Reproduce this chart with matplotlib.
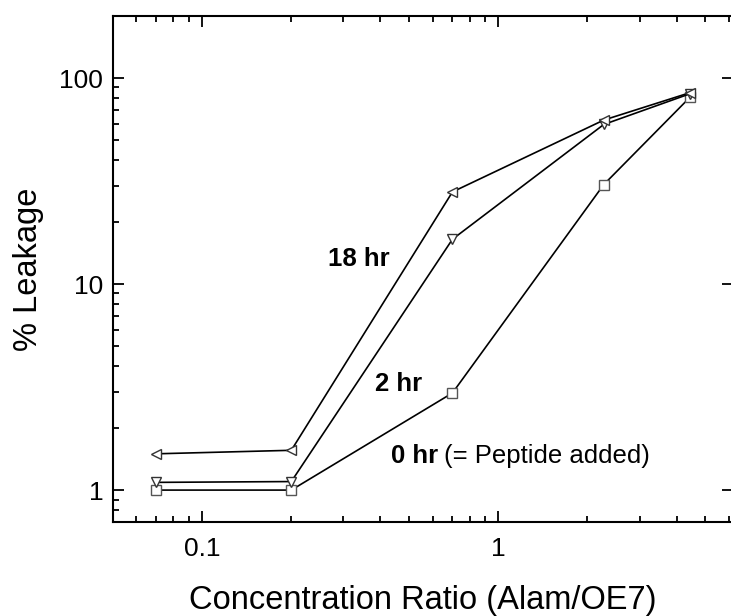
# import libraries
import numpy as np
import matplotlib
matplotlib.use('Agg')
import matplotlib.pyplot as plt
from matplotlib.ticker import LogLocator, NullFormatter, FixedLocator

plt.rcParams['font.family'] = ['Liberation Sans', 'DejaVu Sans']

# data
ratio = [0.07, 0.2, 0.7, 2.27, 4.45]
leak_18hr = [1.50, 1.56, 28.0, 62.5, 85.0]
leak_2hr = [1.09, 1.10, 16.5, 59.5, 84.0]
leak_0hr = [1.0, 1.0, 2.96, 30.4, 81.0]

series_labels = ['18 hr', '2 hr', '0 hr']
note_text = '(= Peptide added)'
x_title = 'Concentration Ratio (Alam/OE7)'
y_title = '% Leakage'


def make_plot():
    fig = plt.figure(figsize=(7.31, 6.16), dpi=100)
    ax = fig.add_axes([113 / 731, 1 - 522 / 616, 620 / 731, 506 / 616])

    style = dict(color='black', lw=1.2, mfc='white', ms=7.5, mew=1.0,
                 zorder=3)
    ax.plot(ratio, leak_0hr, marker='s', mec='#555555', **style)
    ax.plot(ratio, leak_2hr, marker='v', mec='#333333', **style)
    ax.plot(ratio, leak_18hr, marker='<', mec='#333333', **style)

    ax.set_xscale('log')
    ax.set_yscale('log')
    ax.set_xlim(0.05, 6.2)
    ax.set_ylim(0.7, 200)

    # ticks
    ax.xaxis.set_major_locator(FixedLocator([0.1, 1]))
    ax.xaxis.set_minor_locator(LogLocator(base=10, subs=np.arange(2, 10)))
    ax.yaxis.set_major_locator(FixedLocator([1, 10, 100]))
    ax.yaxis.set_minor_locator(LogLocator(base=10, subs=np.arange(2, 10)))
    ax.xaxis.set_minor_formatter(NullFormatter())
    ax.yaxis.set_minor_formatter(NullFormatter())
    ax.set_xticklabels(['0.1', '1'])
    ax.set_yticklabels(['1', '10', '100'])
    ax.tick_params(which='both', direction='in', top=True, right=True,
                   width=1.3, labelsize=19, colors='black')
    ax.tick_params(which='major', length=8, pad=11)
    ax.tick_params(which='minor', length=4.5, right=False)
    ax.tick_params(axis='y', which='major', pad=7)
    for sp in ax.spines.values():
        sp.set_linewidth(1.5)

    ax.set_xlabel(x_title, fontsize=23.5, labelpad=17)
    ax.set_ylabel(y_title, fontsize=23.5, labelpad=11)

    # series labels
    ax.text(0.339, 13.3, series_labels[0], fontsize=18.5, fontweight='bold',
            ha='center', va='center')
    ax.text(0.459, 3.29, series_labels[1], fontsize=18.5, fontweight='bold',
            ha='center', va='center')
    ax.text(0.435, 1.47, series_labels[2], fontsize=18.5, fontweight='bold',
            ha='left', va='center')
    ax.text(0.658, 1.47, note_text, fontsize=18.5, ha='left', va='center')

    fig.savefig('out.png', dpi=100)


def main():
    make_plot()


if __name__ == '__main__':
    main()
